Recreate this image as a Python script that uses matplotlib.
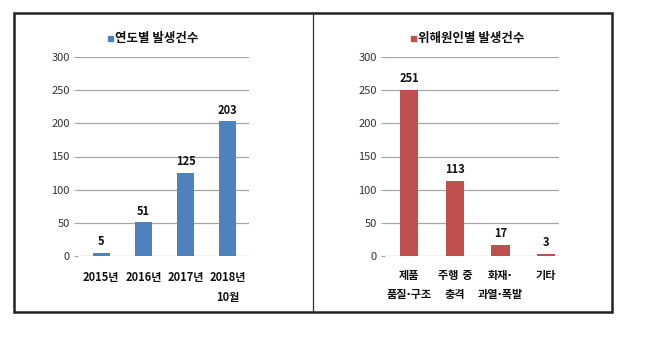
import matplotlib.pyplot as plt
from matplotlib.patches import Rectangle
from matplotlib.lines import Line2D

plt.rcParams['font.family'] = ['Noto Sans CJK KR', 'DejaVu Sans']

# 연도별 발생건수
years = ['2015년', '2016년', '2017년', '2018년\n10월']
year_counts = [5, 51, 125, 203]

# 위해원인별 발생건수
causes = ['제품\n품질·구조', '주행 중\n충격', '화재·\n과열·폭발', '기타']
cause_counts = [251, 113, 17, 3]

W, H = 650, 347
fig = plt.figure(figsize=(6.5, 3.47), dpi=100)
fig.patch.set_facecolor('white')

# outer frame and divider
fig.add_artist(Rectangle((14 / W, 1 - 312 / H), (612 - 14) / W, (312 - 13) / H,
                         transform=fig.transFigure, fill=False, edgecolor='#222222', linewidth=1.8))
fig.add_artist(Line2D([313 / W, 313 / W], [1 - 312 / H, 1 - 13 / H],
                      transform=fig.transFigure, color='#333333', linewidth=0.9))


def panel(rect, labels, values, color, title, xlim, title_x, label_family, spacing):
    x0, y0, x1, y1 = rect
    ax = fig.add_axes([x0 / W, 1 - y1 / H, (x1 - x0) / W, (y1 - y0) / H])
    pos = range(len(values))
    bars = ax.bar(pos, values, width=0.4, color=color, zorder=3)
    for b, v in zip(bars, values):
        ax.text(b.get_x() + b.get_width() / 2, v + 7, str(v), ha='center', va='bottom',
                fontsize=8, fontweight='bold', color='#111111')
    ax.set_ylim(0, 300)
    ax.set_xlim(*xlim)
    ax.set_yticks(range(0, 301, 50))
    ax.yaxis.grid(True, color='#a6a6a6', linewidth=0.9, zorder=0)
    for s in ax.spines.values():
        s.set_visible(False)
    ax.tick_params(axis='y', length=3, color='#a6a6a6', labelsize=8, labelcolor='#333333', pad=3)
    ax.set_xticks(list(pos))
    ax.set_xticklabels(labels, fontsize=8, fontweight='bold', linespacing=spacing, family=label_family)
    ax.tick_params(axis='x', length=0, pad=11, labelcolor='#111111')
    # legend marker + title
    fig.add_artist(Rectangle((title_x / W, 1 - 41 / H), 5 / W, 5 / H,
                             transform=fig.transFigure, color=color))
    fig.text((title_x + 7) / W, 1 - 38.5 / H, title, fontsize=9, fontweight='bold',
             ha='left', va='center', color='#111111')
    return ax


panel((78, 57, 249, 256), years, year_counts, '#4F81BD', '연도별 발생건수',
      (-0.55, 3.5), 108, ['Noto Sans CJK KR', 'DejaVu Sans'], 1.65)
panel((385, 57, 559, 256), causes, cause_counts, '#C0504D', '위해원인별 발생건수',
      (-0.53, 3.28), 411, ['DejaVu Sans', 'Noto Sans CJK KR'], 2.1)

fig.savefig('out.png', dpi=100)
